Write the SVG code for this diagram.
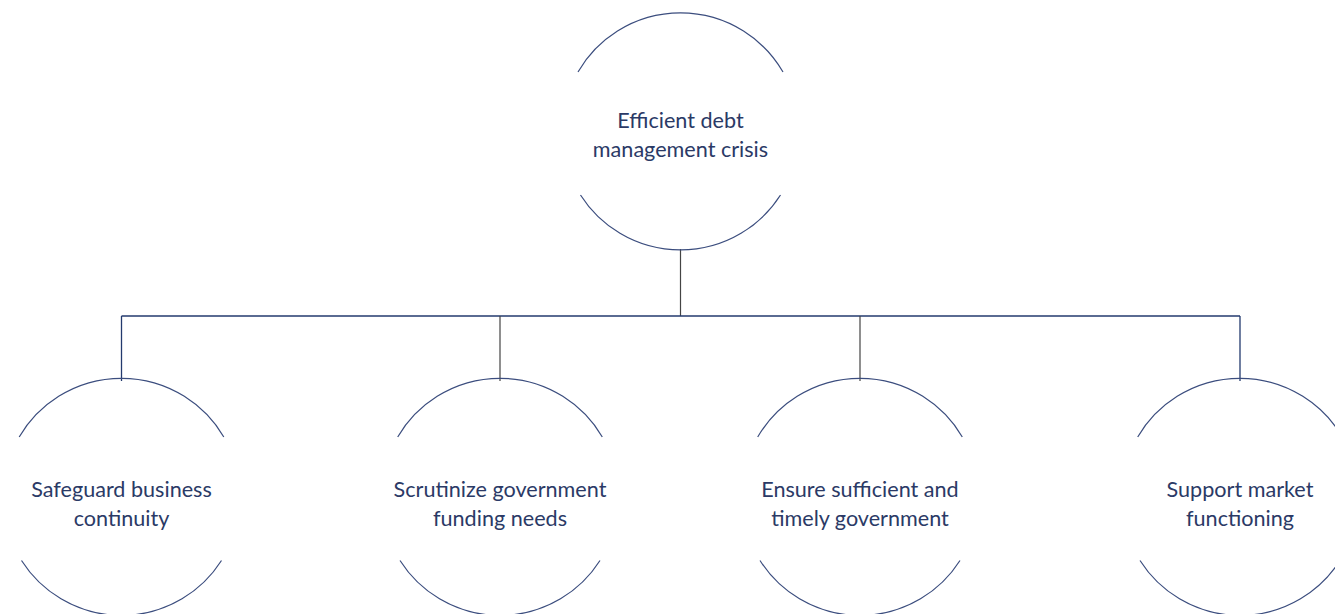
<svg xmlns="http://www.w3.org/2000/svg" width="1335" height="614" viewBox="0 0 1335 614">
<style>
.arc{fill:none;stroke:#3b4d7e;stroke-width:1.2}
.lbl{font-family:Lato,"Open Sans","Liberation Sans",sans-serif;font-size:21.6px;fill:#2b3a66;text-anchor:middle}
.hl{fill:none;stroke:#233a6e;stroke-width:1.3}
.vl{fill:none;stroke:#444;stroke-width:1.2}
</style>
<rect width="1335" height="614" fill="#fff"/>
<g id="connectors">
<line class="vl" x1="680.5" y1="249" x2="680.5" y2="316"/>
<line class="hl" x1="121.5" y1="316" x2="1240" y2="316"/>
<line class="hl" x1="121.5" y1="316" x2="121.5" y2="381"/>
<line class="vl" x1="500" y1="316" x2="500" y2="381"/>
<line class="vl" x1="860" y1="316" x2="860" y2="381"/>
<line class="hl" x1="1240" y1="316" x2="1240" y2="381" stroke="#7a88aa"/>
</g>
<g id="root">
<path class="arc" d="M578 72 A118.5 118.5 0 0 1 783 72"/>
<path class="arc" d="M580.5 195 A118.5 118.5 0 0 0 780.5 195"/>
<text class="lbl" x="680.5" y="127.5">Efficient debt</text>
<text class="lbl" x="680.5" y="156.5">management crisis</text>
</g>
<g id="n1">
<path class="arc" d="M19.2 437 A118.5 118.5 0 0 1 223.8 437"/>
<path class="arc" d="M21.5 560.5 A118.5 118.5 0 0 0 221.5 560.5"/>
<text class="lbl" x="121.5" y="496.5">Safeguard business</text>
<text class="lbl" x="121.5" y="525.5">continuity</text>
</g>
<g id="n2">
<path class="arc" d="M397.7 437 A118.5 118.5 0 0 1 602.3 437"/>
<path class="arc" d="M400 560.5 A118.5 118.5 0 0 0 600 560.5"/>
<text class="lbl" x="500" y="496.5">Scrutinize government</text>
<text class="lbl" x="500" y="525.5">funding needs</text>
</g>
<g id="n3">
<path class="arc" d="M757.7 437 A118.5 118.5 0 0 1 962.3 437"/>
<path class="arc" d="M760 560.5 A118.5 118.5 0 0 0 960 560.5"/>
<text class="lbl" x="860" y="496.5">Ensure sufficient and</text>
<text class="lbl" x="860" y="525.5">timely government</text>
</g>
<g id="n4">
<path class="arc" d="M1137.7 437 A118.5 118.5 0 0 1 1342.3 437"/>
<path class="arc" d="M1140 560.5 A118.5 118.5 0 0 0 1340 560.5"/>
<text class="lbl" x="1240" y="496.5">Support market</text>
<text class="lbl" x="1240" y="525.5">functioning</text>
</g>
</svg>
